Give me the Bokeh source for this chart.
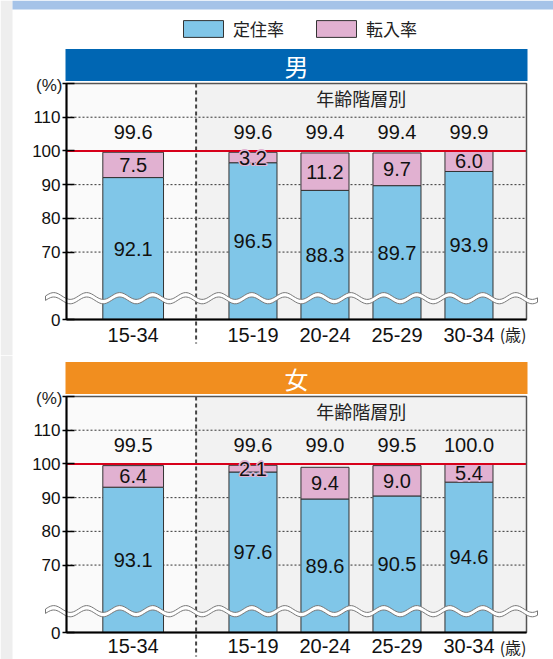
from bokeh.plotting import figure
from bokeh.models import Range1d, FixedTicker, Legend, LegendItem, ColumnDataSource
from bokeh.layouts import column
from bokeh.embed import file_html
from bokeh.resources import INLINE
from bokeh.core.properties import value
import numpy as np

# ---------------- data ----------------
categories = ["15-34", "15-19", "20-24", "25-29", "30-34"]
male_teiju = [92.1, 96.5, 88.3, 89.7, 93.9]
male_tennyu = [7.5, 3.2, 11.2, 9.7, 6.0]
male_total = [99.6, 99.6, 99.4, 99.4, 99.9]
female_teiju = [93.1, 97.6, 89.6, 90.5, 94.6]
female_tennyu = [6.4, 2.1, 9.4, 9.0, 5.4]
female_total = [99.5, 99.6, 99.0, 99.5, 100.0]
y_ticks = [50, 70, 80, 90, 100, 110, 120]
y_tick_labels = {50: "0", 120: ""}
grid_ticks = [70, 80, 90, 110]
legend_labels = ["定住率", "転入率"]

# ---------------- layout ----------------
W = 553
FL, FW, XU = 66, 460, 72.0
PH = 236
YMIN, YMAX = 50, 120
YU = PH / (YMAX - YMIN)
XMAX = FW / XU
X_POS = [0.926, 2.59, 3.59, 4.59, 5.59]
BAR_W = [0.843, 0.667, 0.667, 0.667, 0.667]
DIV_X = 1.8

BLUE = "#80c6e8"
PINK = "#e1b1d1"
NUM = "Liberation Sans"
CJK = "Noto Sans CJK JP"


def px2x(px):
    return (px - FL) / XU


def make_panel(teiju, tennyu, total, title, title_color, fig_top, fig_h, plot_top, first,
               xlab_standoff):
    plot_bot = plot_top + PH

    def ay(abs_px):
        return YMAX - (abs_px - plot_top) / YU

    p = figure(width=W, height=fig_h, title=None,
               x_range=Range1d(px2x(0), px2x(W)),
               y_range=Range1d(ay(fig_top + fig_h), ay(fig_top)),
               output_backend="svg", toolbar_location=None,
               min_border=0, min_border_left=0, min_border_right=0,
               min_border_top=0, min_border_bottom=0,
               background_fill_color="white", border_fill_color="white",
               outline_line_color=None)

    # page decorations
    p.quad(left=px2x(0), right=px2x(12), bottom=ay(fig_top + fig_h), top=ay(fig_top),
           fill_color="#eeeeee", line_color=None)
    if first:
        p.quad(left=px2x(12), right=px2x(W), bottom=ay(9), top=ay(0),
               fill_color="#a5c3e8", line_color=None)

    # plot area backgrounds
    p.quad(left=0, right=XMAX, bottom=YMIN, top=YMAX, fill_color="#fafafa", line_color=None)
    p.quad(left=DIV_X, right=XMAX, bottom=YMIN, top=YMAX, fill_color="#f2f2f2", line_color=None)

    # header band
    p.quad(left=px2x(65), right=px2x(527), bottom=ay(plot_top - 2.5), top=ay(plot_top - 34.5),
           fill_color=title_color, line_color=None)
    p.text(x=[px2x(296)], y=[ay(plot_top - 18.5)], text=[title], text_font=value(CJK),
           text_font_size="24px", text_align="center", text_baseline="middle",
           text_color="white")

    # axes
    p.xgrid.visible = False
    p.ygrid.visible = False
    yax = p.yaxis[0]
    yax.fixed_location = 0
    yax.bounds = (YMIN, YMAX)
    yax.ticker = FixedTicker(ticks=y_ticks)
    yax.major_label_overrides = y_tick_labels
    yax.axis_line_width = 2
    yax.axis_line_color = "black"
    yax.major_tick_in = 8
    yax.major_tick_out = 4
    yax.major_tick_line_width = 1.5
    yax.minor_tick_line_color = None
    yax.major_label_text_font = NUM
    yax.major_label_text_font_size = "17px"
    yax.major_label_text_color = "#111111"
    yax.major_label_standoff = 2

    xax = p.xaxis[0]
    xax.fixed_location = YMIN
    xax.bounds = (0, XMAX)
    xax.ticker = FixedTicker(ticks=X_POS)
    xax.major_label_overrides = {x: c for x, c in zip(X_POS, categories)}
    xax.major_tick_line_color = None
    xax.major_tick_in = 0
    xax.major_tick_out = 0
    xax.minor_tick_line_color = None
    xax.axis_line_width = 2
    xax.axis_line_color = "black"
    xax.major_label_text_font = NUM
    xax.major_label_text_font_size = "20px"
    xax.major_label_text_color = "#111111"
    xax.major_label_standoff = xlab_standoff

    # grid lines
    p.segment(x0=0, x1=XMAX, y0=grid_ticks, y1=grid_ticks, line_color="#333333",
              line_dash="2 2", line_width=1)

    # divider
    p.segment(x0=[DIV_X], x1=[DIV_X], y0=[YMAX], y1=[ay(plot_bot + 24)],
              line_color="#444444", line_width=2, line_dash="4 3")

    src = ColumnDataSource(dict(
        x=X_POS, w=BAR_W, teiju=teiju, tennyu=tennyu, total=total,
        base=[YMIN] * len(X_POS),
        y_in=[(YMIN + t) / 2 for t in teiju],
        y_pk=[(a + b) / 2 for a, b in zip(teiju, total)],
        y_tot=[105.5] * len(X_POS),
        t_in=[f"{v:.1f}" for v in teiju],
        t_pk=[f"{v:.1f}" for v in tennyu],
        t_tot=[f"{v:.1f}" for v in total],
    ))
    r_blue = p.vbar(x="x", width="w", bottom="base", top="teiju", source=src,
                    fill_color=BLUE, line_color="#333333", line_width=1)
    r_pink = p.vbar(x="x", width="w", bottom="teiju", top="total", source=src,
                    fill_color=PINK, line_color="#333333", line_width=1)

    # 100% line
    p.segment(x0=[0], x1=[XMAX], y0=[100], y1=[100], line_color="#d7001a", line_width=2)

    # plot frame outline (top/right visible)
    p.quad(left=0, right=XMAX, bottom=YMIN, top=YMAX, fill_color=None,
           line_color="#555555", line_width=1.5)

    common = dict(text_font=value(NUM), text_font_size="20px", text_align="center",
                  text_baseline="middle")
    p.text(x="x", y="y_in", text="t_in", source=src, text_color="#111111", **common)
    for dx, dy in [(-1.5, 0), (1.5, 0), (0, -1.5), (0, 1.5), (-1, -1), (1, 1), (-1, 1), (1, -1)]:
        p.text(x="x", y="y_pk", text="t_pk", source=src, text_color=PINK,
               x_offset=dx, y_offset=dy, **common)
    p.text(x="x", y="y_pk", text="t_pk", source=src, text_color="#111111", **common)
    p.text(x="x", y="y_tot", text="t_tot", source=src, text_color="#111111", **common)

    # axis-break wave
    xs = np.linspace(px2x(45), px2x(537), 300)
    yc = YMIN + 21.3 / YU
    amp = 3.4 / YU
    half = 2.2 / YU
    wave = amp * np.sin(2 * np.pi * (xs - px2x(45)) / (33 / XU))
    pxs = list(xs) + list(xs[::-1])
    pys = list(yc + wave + half) + list((yc + wave - half)[::-1])
    p.patch(x=pxs, y=pys, fill_color="white", line_color="#777777", line_width=1)

    p.text(x=[(DIV_X + XMAX) / 2], y=[ay(plot_top + 14.6)], text=["年齢階層別"],
           text_font=value(CJK), text_font_size="18px", text_align="center",
           text_baseline="middle", text_color="#222222")
    p.text(x=[px2x(62)], y=[ay(plot_top + 2)], text=["(%)"],
           text_font=value(NUM), text_font_size="17px", text_align="right",
           text_baseline="middle", text_color="#222222")
    p.text(x=[px2x(526)], y=[ay(plot_bot + 14)], text=["(歳)"],
           text_font=value(CJK), text_font_size="16px", text_align="right",
           text_baseline="middle", text_color="#222222")

    if first:
        leg = Legend(items=[LegendItem(label=legend_labels[0], renderers=[r_blue]),
                            LegendItem(label=legend_labels[1], renderers=[r_pink])],
                     orientation="horizontal", location=(178, fig_h - 41),
                     glyph_width=50, glyph_height=21, label_standoff=5, spacing=27,
                     padding=0, margin=0, border_line_color=None, background_fill_alpha=0,
                     label_text_font=CJK, label_text_font_size="17px",
                     label_text_color="#222222")
        p.add_layout(leg)
    return p


p1 = make_panel(male_teiju, male_tennyu, male_total, "男", "#0066b3", 0, 355, 83, True, 8)
p2 = make_panel(female_teiju, female_tennyu, female_total, "女", "#f18e1f", 355, 304, 396, False, 6)

layout = column(p1, p2)
open("out.html", "w").write(file_html(layout, INLINE))
